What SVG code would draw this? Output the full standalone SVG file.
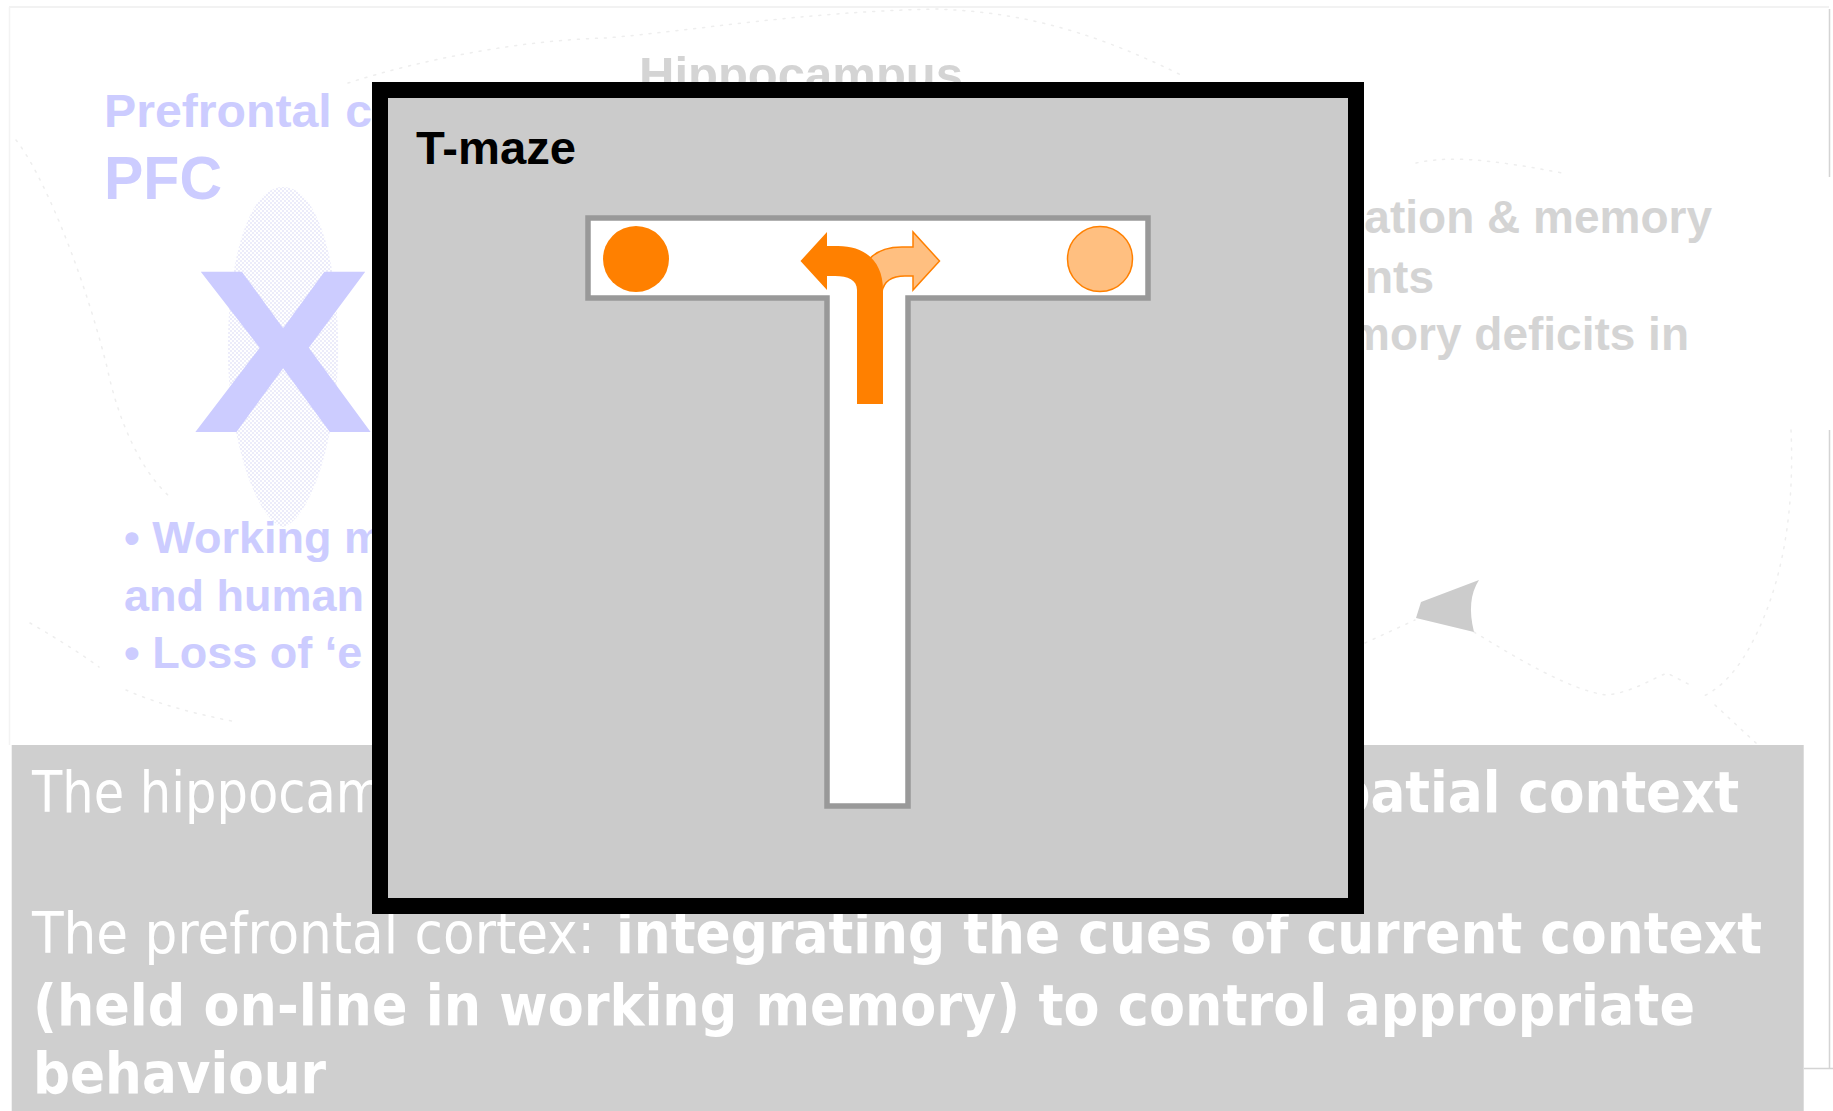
<svg xmlns="http://www.w3.org/2000/svg" width="1833" height="1111" viewBox="0 0 1833 1111">
<style>
.bg-blue{font-family:"Liberation Sans",Arial,sans-serif;font-weight:bold;fill:#ccccff}
.bg-gray{font-family:"Liberation Sans",Arial,sans-serif;font-weight:bold;fill:#d4d4d4}
.wt{font-family:"DejaVu Sans Condensed","DejaVu Sans",Verdana,sans-serif;font-stretch:condensed;font-size:57px;fill:#ffffff}
.wb{font-family:"DejaVu Sans Condensed","DejaVu Sans",Verdana,sans-serif;font-stretch:condensed;font-size:57px;font-weight:bold;fill:#ffffff}
.dots{fill:none;stroke:#eeeeee;stroke-width:1.5;stroke-dasharray:2 7;stroke-linecap:round}
.edge{fill:none;stroke:#d4d4d4;stroke-width:1.5}
</style>
<defs>
<pattern id="chk" width="4" height="4" patternUnits="userSpaceOnUse">
<rect width="4" height="4" fill="#ffffff"/>
<rect width="2" height="2" fill="#ececfa"/>
<rect x="2" y="2" width="2" height="2" fill="#ececfa"/>
</pattern>
</defs>
<rect width="1833" height="1111" fill="#ffffff"/>
<g id="background">
<path d="M9,7 H1829" stroke="#eeeeee" stroke-width="1.5" fill="none"/>
<path d="M9.5,7 V745" stroke="#f3f3f3" stroke-width="1.5" fill="none"/>
<path class="edge" d="M1829.5,9 V177 M1829.5,430 V1068 M1804,1068.5 H1833"/>
<path class="dots" d="M348,83 C420,60 520,40 606,38 C700,30 800,12 936,9 C1010,12 1080,25 1181,75"/>
<path class="dots" d="M16,140 C40,170 80,260 107,367 C118,420 140,470 170,497"/>
<path class="dots" d="M30,623 C60,640 90,660 99,667 M126,690 C160,705 200,715 237,722"/>
<path class="dots" d="M1416,163 C1440,158 1470,155 1562,173"/>
<path class="dots" d="M1791,430 C1795,520 1780,600 1742,660 C1725,685 1712,692 1700,698 M1715,705 L1756,743"/>
<path class="dots" d="M1474,632 C1520,660 1570,690 1606,695 C1630,693 1650,680 1667,673 L1694,687"/>
<path class="dots" d="M1365,643 L1415,620"/>
<path d="M1421,602 L1479,580 Q1466,600 1474,632 L1416,618 Z" fill="#cccccc"/>
<path d="M283,187 C320,187 340,270 338,360 C336,440 310,520 283,527 C256,520 230,440 228,360 C226,270 246,187 283,187 Z" fill="url(#chk)"/>
<text class="bg-blue" x="193" y="432" font-size="233" textLength="180" lengthAdjust="spacingAndGlyphs">X</text>
<text class="bg-blue" x="104" y="127" font-size="46" textLength="268" lengthAdjust="spacingAndGlyphs">Prefrontal c</text>
<text class="bg-blue" x="104" y="199" font-size="61" textLength="118" lengthAdjust="spacingAndGlyphs">PFC</text>
<text class="bg-blue" x="124" y="553" font-size="45">• Working m</text>
<text class="bg-blue" x="124" y="611" font-size="45">and human</text>
<text class="bg-blue" x="124" y="668" font-size="45">• Loss of ‘e</text>
<text class="bg-gray" x="639" y="91" font-size="49" textLength="324" lengthAdjust="spacingAndGlyphs">Hippocampus</text>
<text class="bg-gray" x="1712" y="233" font-size="46" text-anchor="end">ation &amp; memory</text>
<text class="bg-gray" x="1434" y="293" font-size="46" text-anchor="end">nts</text>
<text class="bg-gray" x="1689" y="350" font-size="46" text-anchor="end">mory deficits in</text>
<rect x="11.7" y="745" width="1792" height="366" fill="#cfcfcf"/>
<text class="wt" x="32" y="812" textLength="352" lengthAdjust="spacingAndGlyphs">The hippocam</text>
<text class="wb" x="1302.6" y="812" textLength="436.7" lengthAdjust="spacingAndGlyphs">spatial context</text>
<text class="wt" x="32" y="953" textLength="563" lengthAdjust="spacingAndGlyphs">The prefrontal cortex:</text>
<text class="wb" x="616" y="953" textLength="1146" lengthAdjust="spacingAndGlyphs">integrating the cues of current context</text>
<text class="wb" x="33" y="1025" textLength="1662" lengthAdjust="spacingAndGlyphs">(held on-line in working memory) to control appropriate</text>
<text class="wb" x="33" y="1093" textLength="293" lengthAdjust="spacingAndGlyphs">behaviour</text>
</g>
<g id="tmaze-frame">
<rect x="380" y="90" width="976" height="816" fill="#cbcbcb" stroke="#000000" stroke-width="16"/>
<text x="416" y="164" font-family="Liberation Sans, Arial, sans-serif" font-weight="bold" font-size="47" fill="#000000" textLength="160" lengthAdjust="spacingAndGlyphs">T-maze</text>
</g>
<g id="maze">
<path d="M588,218 L1148,218 L1148,298 L908,298 L908,806 L827,806 L827,298 L588,298 Z" fill="#ffffff" stroke="#999999" stroke-width="5.5"/>
</g>
<g id="left-goal">
<circle cx="636" cy="259" r="33" fill="#ff8000"/>
</g>
<g id="right-goal">
<circle cx="1100" cy="259" r="32.5" fill="#ffbf80" stroke="#ff8000" stroke-width="1.5"/>
</g>
<g id="connectors">
<path id="arrow-right" d="M913,276 L905,276 C893,276 884,280 882,292 L860,292 C859,262 874,247 902,247 L913,247 L913,232 L939.5,261 L913,290 Z" fill="#ffbf80" stroke="#ff8000" stroke-width="1.5" stroke-linejoin="miter"/>
<path id="arrow-left" d="M827,276 L835,276 C848,276 857,280 857,290 L857,404 L883,404 L883,290 C883,262 866,246 838,246 L827,246 L827,232 L800.5,261 L827,290 Z" fill="#ff8000"/>
</g>
</svg>
